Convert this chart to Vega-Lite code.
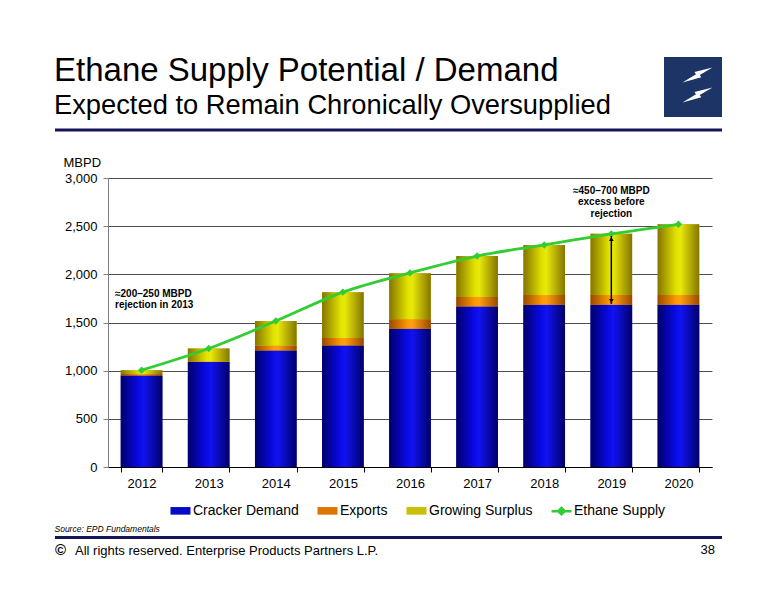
{
  "$schema": "https://vega.github.io/schema/vega-lite/v6.json",
  "width": 604,
  "height": 289,
  "autosize": {"type": "none"},
  "padding": {"left": 108, "top": 178, "right": 64, "bottom": 133},
  "background": "white",
  "config": {"font": "Liberation Sans", "view": {"stroke": null}},
  "title": {
    "text": "Ethane Supply Potential / Demand",
    "subtitle": "Expected to Remain Chronically Oversupplied",
    "anchor": "start",
    "frame": "group",
    "fontSize": 33,
    "fontWeight": "normal",
    "color": "black",
    "subtitleFontSize": 27.3,
    "subtitleColor": "black",
    "subtitlePadding": 4,
    "dx": -54,
    "dy": 100,
    "offset": 38
  },
  "datasets": {
    "bars": [
      {"year": "2012", "series": "Cracker Demand", "value": 950, "rank": 1},
      {"year": "2012", "series": "Exports", "value": 15, "rank": 2},
      {"year": "2012", "series": "Growing Surplus", "value": 40, "rank": 3},
      {"year": "2013", "series": "Cracker Demand", "value": 1090, "rank": 1},
      {"year": "2013", "series": "Exports", "value": 5, "rank": 2},
      {"year": "2013", "series": "Growing Surplus", "value": 135, "rank": 3},
      {"year": "2014", "series": "Cracker Demand", "value": 1210, "rank": 1},
      {"year": "2014", "series": "Exports", "value": 50, "rank": 2},
      {"year": "2014", "series": "Growing Surplus", "value": 255, "rank": 3},
      {"year": "2015", "series": "Cracker Demand", "value": 1260, "rank": 1},
      {"year": "2015", "series": "Exports", "value": 80, "rank": 2},
      {"year": "2015", "series": "Growing Surplus", "value": 475, "rank": 3},
      {"year": "2016", "series": "Cracker Demand", "value": 1435, "rank": 1},
      {"year": "2016", "series": "Exports", "value": 100, "rank": 2},
      {"year": "2016", "series": "Growing Surplus", "value": 475, "rank": 3},
      {"year": "2017", "series": "Cracker Demand", "value": 1665, "rank": 1},
      {"year": "2017", "series": "Exports", "value": 100, "rank": 2},
      {"year": "2017", "series": "Growing Surplus", "value": 425, "rank": 3},
      {"year": "2018", "series": "Cracker Demand", "value": 1685, "rank": 1},
      {"year": "2018", "series": "Exports", "value": 100, "rank": 2},
      {"year": "2018", "series": "Growing Surplus", "value": 520, "rank": 3},
      {"year": "2019", "series": "Cracker Demand", "value": 1685, "rank": 1},
      {"year": "2019", "series": "Exports", "value": 100, "rank": 2},
      {"year": "2019", "series": "Growing Surplus", "value": 635, "rank": 3},
      {"year": "2020", "series": "Cracker Demand", "value": 1685, "rank": 1},
      {"year": "2020", "series": "Exports", "value": 100, "rank": 2},
      {"year": "2020", "series": "Growing Surplus", "value": 735, "rank": 3}
    ],
    "supply": [
      {"year": "2012", "supply": 1005},
      {"year": "2013", "supply": 1230},
      {"year": "2014", "supply": 1515},
      {"year": "2015", "supply": 1815},
      {"year": "2016", "supply": 2015},
      {"year": "2017", "supply": 2190},
      {"year": "2018", "supply": 2305},
      {"year": "2019", "supply": 2420},
      {"year": "2020", "supply": 2520}
    ],
    "notes": [
      {"year": "2012", "value": 1768, "label": "≈200–250 MBPD\nrejection in 2013", "anchor": "left"},
      {"year": "2019", "value": 2831, "label": "≈450–700 MBPD\nexcess before\nrejection", "anchor": "center"}
    ],
    "arrow": [
      {"year": "2019", "low": 1692, "high": 2398}
    ]
  },
  "layer": [
    {
      "data": {"name": "bars"},
      "transform": [{"stack": "value", "groupby": ["year"], "sort": [{"field": "rank", "order": "ascending"}], "as": ["v0", "v1"]}],
      "mark": {"type": "bar"},
      "encoding": {
        "x": {
          "field": "year",
          "type": "ordinal",
          "scale": {"paddingInner": 0.38, "paddingOuter": 0.19},
          "axis": {
            "title": "Source:  EPD Fundamentals",
            "titleFontSize": 8.5,
            "titleFontStyle": "italic",
            "titleFontWeight": "normal",
            "titleColor": "black",
            "titleAnchor": "start",
            "titleAlign": "left",
            "titleX": -54,
            "titleY": 64,
            "titleBaseline": "alphabetic",
            "labelAngle": 0,
            "labelFontSize": 13,
            "labelColor": "black",
            "labelPadding": 5,
            "tickBand": "extent",
            "tickSize": 5,
            "tickColor": "black",
            "domainColor": "black",
            "grid": false
          }
        },
        "y": {
          "field": "v0",
          "type": "quantitative",
          "scale": {"domain": [0, 3000]},
          "axis": {
            "values": [0, 500, 1000, 1500, 2000, 2500, 3000],
            "format": ",.0f",
            "title": "MBPD",
            "titleAngle": 0,
            "titleAlign": "left",
            "titleBaseline": "alphabetic",
            "titleX": -45,
            "titleY": -12,
            "titleFontSize": 13,
            "titleFontWeight": "normal",
            "titleColor": "black",
            "labelFontSize": 13,
            "labelColor": "black",
            "labelPadding": 6,
            "tickSize": 5,
            "tickColor": "#808080",
            "domainColor": "#808080",
            "gridColor": "#4d4d4d",
            "gridWidth": 1
          }
        },
        "y2": {"field": "v1"},
        "color": {
          "field": "series",
          "type": "nominal",
          "scale": {
            "domain": ["Cracker Demand", "Exports", "Growing Surplus", "Ethane Supply"],
            "range": ["#0808c8", "#dd7400", "#c8c000", "#33cc33"]
          },
          "legend": {
            "orient": "none",
            "legendX": 61,
            "legendY": 321,
            "direction": "horizontal",
            "title": null,
            "padding": 0,
            "symbolSize": 400,
            "labelFontSize": 14,
            "labelColor": "black",
            "labelOffset": 1,
            "columnPadding": 13,
            "encode": {
              "symbols": {
                "update": {
                  "shape": {"signal": "datum.value === 'Ethane Supply' ? 'M-1,0H1M0,-0.32L0.32,0L0,0.32L-0.32,0Z' : 'M-1,-0.38H1V0.38H-1Z'"},
                  "stroke": {"signal": "datum.value === 'Ethane Supply' ? '#33cc33' : 'transparent'"},
                  "strokeWidth": {"value": 2.5},
                  "opacity": {"value": 1}
                }
              }
            }
          }
        }
      }
    },
    {
      "data": {"name": "bars"},
      "transform": [
        {"stack": "value", "groupby": ["year"], "sort": [{"field": "rank", "order": "ascending"}], "as": ["v0", "v1"]},
        {"filter": "datum.series === 'Cracker Demand'"}
      ],
      "mark": {"type": "bar", "color": {"gradient": "linear", "x1": 0, "y1": 0, "x2": 1, "y2": 0, "stops": [
        {"offset": 0, "color": "#00006a"},
        {"offset": 0.4, "color": "#0808e0"},
        {"offset": 0.55, "color": "#1212f2"},
        {"offset": 1, "color": "#00006a"}
      ]}},
      "encoding": {
        "x": {"field": "year", "type": "ordinal"},
        "y": {"field": "v0", "type": "quantitative"},
        "y2": {"field": "v1"}
      }
    },
    {
      "data": {"name": "bars"},
      "transform": [
        {"stack": "value", "groupby": ["year"], "sort": [{"field": "rank", "order": "ascending"}], "as": ["v0", "v1"]},
        {"filter": "datum.series === 'Exports'"}
      ],
      "mark": {"type": "bar", "color": {"gradient": "linear", "x1": 0, "y1": 0, "x2": 1, "y2": 0, "stops": [
        {"offset": 0, "color": "#9a4800"},
        {"offset": 0.45, "color": "#ff9a00"},
        {"offset": 0.55, "color": "#ffa010"},
        {"offset": 1, "color": "#9a4800"}
      ]}},
      "encoding": {
        "x": {"field": "year", "type": "ordinal"},
        "y": {"field": "v0", "type": "quantitative"},
        "y2": {"field": "v1"}
      }
    },
    {
      "data": {"name": "bars"},
      "transform": [
        {"stack": "value", "groupby": ["year"], "sort": [{"field": "rank", "order": "ascending"}], "as": ["v0", "v1"]},
        {"filter": "datum.series === 'Growing Surplus'"}
      ],
      "mark": {"type": "bar", "color": {"gradient": "linear", "x1": 0, "y1": 0, "x2": 1, "y2": 0, "stops": [
        {"offset": 0, "color": "#857500"},
        {"offset": 0.45, "color": "#e3e300"},
        {"offset": 0.55, "color": "#e8e80a"},
        {"offset": 1, "color": "#857500"}
      ]}},
      "encoding": {
        "x": {"field": "year", "type": "ordinal"},
        "y": {"field": "v0", "type": "quantitative"},
        "y2": {"field": "v1"}
      }
    },
    {
      "data": {"name": "supply"},
      "mark": {
        "type": "line",
        "color": "#33cc33",
        "strokeWidth": 2.8,
        "interpolate": "monotone",
        "point": {"filled": true, "shape": "diamond", "size": 55, "color": "#33cc33", "opacity": 1}
      },
      "encoding": {
        "x": {"field": "year", "type": "ordinal"},
        "y": {"field": "supply", "type": "quantitative"}
      }
    },
    {
      "data": {"name": "notes"},
      "transform": [{"filter": "datum.anchor === 'left'"}],
      "mark": {"type": "text", "align": "left", "baseline": "alphabetic", "dx": -26.5, "fontSize": 10, "fontWeight": "bold", "color": "black", "lineBreak": "\n", "lineHeight": 11.5},
      "encoding": {
        "x": {"field": "year", "type": "ordinal"},
        "y": {"field": "value", "type": "quantitative"},
        "text": {"field": "label"}
      }
    },
    {
      "data": {"name": "notes"},
      "transform": [{"filter": "datum.anchor === 'center'"}],
      "mark": {"type": "text", "align": "center", "baseline": "alphabetic", "fontSize": 10, "fontWeight": "bold", "color": "black", "lineBreak": "\n", "lineHeight": 11.2},
      "encoding": {
        "x": {"field": "year", "type": "ordinal"},
        "y": {"field": "value", "type": "quantitative"},
        "text": {"field": "label"}
      }
    },
    {
      "data": {"name": "arrow"},
      "mark": {"type": "rule", "color": "black", "strokeWidth": 1.5},
      "encoding": {
        "x": {"field": "year", "type": "ordinal"},
        "y": {"field": "low", "type": "quantitative"},
        "y2": {"field": "high"}
      }
    },
    {
      "data": {"name": "arrow"},
      "mark": {"type": "point", "shape": "triangle-up", "filled": true, "color": "black", "size": 22, "opacity": 1, "yOffset": 3},
      "encoding": {
        "x": {"field": "year", "type": "ordinal"},
        "y": {"field": "high", "type": "quantitative"}
      }
    },
    {
      "data": {"name": "arrow"},
      "mark": {"type": "point", "shape": "triangle-down", "filled": true, "color": "black", "size": 22, "opacity": 1, "yOffset": -3},
      "encoding": {
        "x": {"field": "year", "type": "ordinal"},
        "y": {"field": "low", "type": "quantitative"}
      }
    },
    {
      "data": {"values": [{}]},
      "mark": {"type": "rule", "color": "#14145a", "strokeWidth": 3},
      "encoding": {"x": {"value": -53}, "x2": {"value": 614}, "y": {"value": -48}}
    },
    {
      "data": {"values": [{}]},
      "mark": {"type": "rect", "color": "#1c3566"},
      "encoding": {"x": {"value": 556}, "x2": {"value": 614}, "y": {"value": -121}, "y2": {"value": -61}}
    },
    {
      "data": {"values": [{}]},
      "mark": {"type": "point", "shape": "M1,-0.5L0.15,0L0.25,0.15L-1,0.5L-0.1,-0.05L-0.2,-0.2Z", "filled": true, "color": "white", "opacity": 1, "size": 900},
      "encoding": {"x": {"value": 589.5}, "y": {"value": -103}}
    },
    {
      "data": {"values": [{}]},
      "mark": {"type": "point", "shape": "M1,-0.5L0.15,0L0.25,0.15L-1,0.5L-0.1,-0.05L-0.2,-0.2Z", "filled": true, "color": "white", "opacity": 1, "size": 900},
      "encoding": {"x": {"value": 589.5}, "y": {"value": -83}}
    },
    {
      "data": {"values": [{}]},
      "mark": {"type": "rule", "color": "#14145a", "strokeWidth": 3},
      "encoding": {"x": {"value": -53}, "x2": {"value": 614}, "y": {"value": 359.5}}
    },
    {
      "data": {"values": [{}]},
      "mark": {"type": "text", "text": "©", "align": "left", "baseline": "alphabetic", "fontSize": 15, "fontWeight": "bold", "color": "black"},
      "encoding": {"x": {"value": -53}, "y": {"value": 377}}
    },
    {
      "data": {"values": [{}]},
      "mark": {"type": "text", "text": "All rights reserved. Enterprise Products Partners L.P.", "align": "left", "baseline": "alphabetic", "fontSize": 13, "color": "black"},
      "encoding": {"x": {"value": -33}, "y": {"value": 377}}
    },
    {
      "data": {"values": [{}]},
      "mark": {"type": "text", "text": "38", "align": "right", "baseline": "alphabetic", "fontSize": 13, "color": "black"},
      "encoding": {"x": {"value": 607}, "y": {"value": 376}}
    }
  ]
}
